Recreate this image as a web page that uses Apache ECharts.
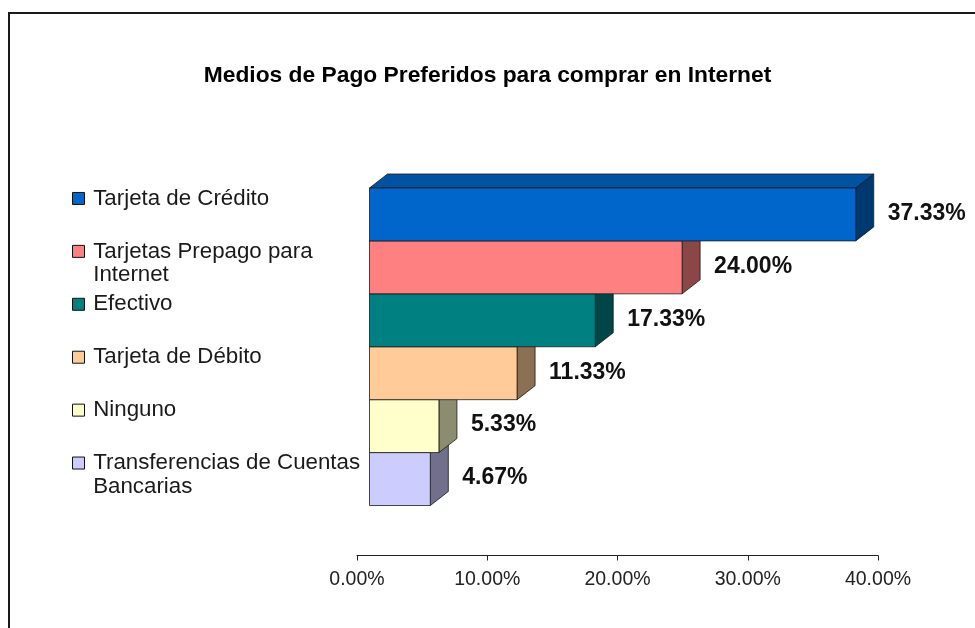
<!DOCTYPE html>
<html>
<head>
<meta charset="utf-8">
<script src="https://cdn.jsdelivr.net/npm/echarts@6/dist/echarts.min.js"></script>
<style>
  html, body { margin: 0; padding: 0; background: #ffffff; }
  #chart { width: 975px; height: 628px; }
</style>
</head>
<body>
<div id="chart"></div>
<script>
// ---- data ----
const chartTitle = 'Medios de Pago Preferidos para comprar en Internet';
const categories = [
  'Tarjeta de Crédito',
  'Tarjetas Prepago para Internet',
  'Efectivo',
  'Tarjeta de Débito',
  'Ninguno',
  'Transferencias de Cuentas Bancarias'
];
const values = [37.33, 24.00, 17.33, 11.33, 5.33, 4.67];   // percent
const colors = ['#0066CC', '#FF8080', '#008080', '#FFCC99', '#FFFFCC', '#CCCCFF'];
const axisMin = 0, axisMax = 40, axisStep = 10;

// ---- layout & style ----
const FONT = '"Liberation Sans", Arial, Helvetica, sans-serif';
const GRID = { left: 357, right: 97, top: 188, bottom: 122.5 };
const CHART_H = 628;
const FRONT_SHIFT = 12.5;          // front face sits a little right of the axis origin
const DEPTH_X = 18, DEPTH_Y = 14;  // oblique depth of the 3D bars
const LABEL_GAP = 14;
const LEGEND = { left: 72, fontSize: 22.3, lineHeight: 23.5, textWidth: 280, rise: 16 };

function shade(hex, f) {
  const n = parseInt(hex.slice(1), 16);
  const r = Math.round(((n >> 16) & 255) * f);
  const g = Math.round(((n >> 8) & 255) * f);
  const b = Math.round((n & 255) * f);
  return 'rgb(' + r + ',' + g + ',' + b + ')';
}

// number of lines a legend entry wraps to within the legend text width
const measureCtx = document.createElement('canvas').getContext('2d');
function lineCount(text) {
  measureCtx.font = LEGEND.fontSize + 'px ' + FONT;
  const words = text.split(' ');
  let lines = 1, cur = '';
  words.forEach(w => {
    const trial = cur ? cur + ' ' + w : w;
    if (cur && measureCtx.measureText(trial).width > LEGEND.textWidth) {
      lines++;
      cur = w;
    } else {
      cur = trial;
    }
  });
  return lines;
}

function renderBar(params, api) {
  const v = api.value(0);
  const c = api.value(1);
  const base = api.visual('color');
  const p0 = api.coord([axisMin, c]);
  const p1 = api.coord([v, c]);
  const band = api.size([0, 1])[1];
  const x0 = p0[0] + FRONT_SHIFT;
  const x1 = p1[0] + FRONT_SHIFT;
  const yT = p0[1] - band / 2;
  const yB = p0[1] + band / 2;
  const edge = { stroke: '#1a1a1a', lineWidth: 0.8 };
  return {
    type: 'group',
    children: [
      { type: 'polygon',
        shape: { points: [[x0, yT], [x1, yT], [x1 + DEPTH_X, yT - DEPTH_Y], [x0 + DEPTH_X, yT - DEPTH_Y]] },
        style: Object.assign({ fill: shade(base, 0.8) }, edge) },
      { type: 'polygon',
        shape: { points: [[x1, yT], [x1 + DEPTH_X, yT - DEPTH_Y], [x1 + DEPTH_X, yB - DEPTH_Y], [x1, yB]] },
        style: Object.assign({ fill: shade(base, 0.55) }, edge) },
      { type: 'rect',
        shape: { x: x0, y: yT, width: x1 - x0, height: yB - yT },
        style: Object.assign({ fill: base }, edge) },
      { type: 'text',
        style: {
          text: v.toFixed(2) + '%',
          x: x1 + DEPTH_X + LABEL_GAP,
          y: p0[1] - 1,
          align: 'left',
          verticalAlign: 'middle',
          fontFamily: FONT,
          fontSize: 23,
          fontWeight: 'bold',
          fill: '#111111'
        } }
    ]
  };
}

const bandH = (CHART_H - GRID.top - GRID.bottom) / categories.length;
const n = categories.length;

// one legend block per entry, each aligned a little above its bar;
// wrapped entries get blank lines on top so the first line sits level with the swatch
const legends = categories.map((name, i) => {
  const L = lineCount(name);
  const lh = LEGEND.lineHeight;
  const centre = GRID.top + (i + 0.5) * bandH - LEGEND.rise;
  return {
    data: [name],
    formatter: label => '\n'.repeat(L - 1) + label,
    orient: 'vertical',
    left: LEGEND.left,
    top: centre - (2 * L - 1) * lh / 2,
    padding: 0,
    icon: 'rect',
    itemWidth: 12,
    itemHeight: 12,
    selectedMode: false,
    itemStyle: { borderColor: '#111111', borderWidth: 1 },
    textStyle: {
      fontFamily: FONT,
      fontSize: LEGEND.fontSize,
      color: '#1a1a1a',
      lineHeight: lh,
      width: LEGEND.textWidth,
      overflow: 'break',
      padding: [0, 0, 0, 3.7]
    }
  };
});

const chart = echarts.init(document.getElementById('chart'), null, { renderer: 'canvas' });
chart.setOption({
  animation: false,
  backgroundColor: '#ffffff',
  textStyle: { fontFamily: FONT },
  title: {
    text: chartTitle,
    left: 'center',
    top: 64,
    padding: 0,
    textStyle: { fontFamily: FONT, fontSize: 22.8, fontWeight: 'bold', color: '#000000' }
  },
  graphic: [{
    type: 'rect',
    shape: { x: 9, y: 13, width: 1000, height: 700 },
    style: { fill: null, stroke: '#1a1a1a', lineWidth: 2 },
    silent: true
  }],
  legend: legends,
  grid: GRID,
  xAxis: {
    type: 'value',
    min: axisMin,
    max: axisMax,
    interval: axisStep,
    offset: 50,
    axisLine: { show: true, lineStyle: { color: '#222222', width: 1 } },
    axisTick: { show: true, length: 5, lineStyle: { color: '#222222' } },
    axisLabel: {
      formatter: v => v.toFixed(2) + '%',
      fontFamily: FONT,
      fontSize: 19.5,
      color: '#222222',
      margin: 14
    },
    splitLine: { show: false }
  },
  yAxis: {
    type: 'category',
    data: categories,
    inverse: true,
    show: false
  },
  series: categories.map((name, i) => ({
    type: 'custom',
    name: name,
    data: [[values[i], i]],
    encode: { x: 0, y: 1 },
    itemStyle: { color: colors[i] },
    z: 2 + n - i,
    silent: true,
    renderItem: renderBar
  }))
});
</script>
</body>
</html>
